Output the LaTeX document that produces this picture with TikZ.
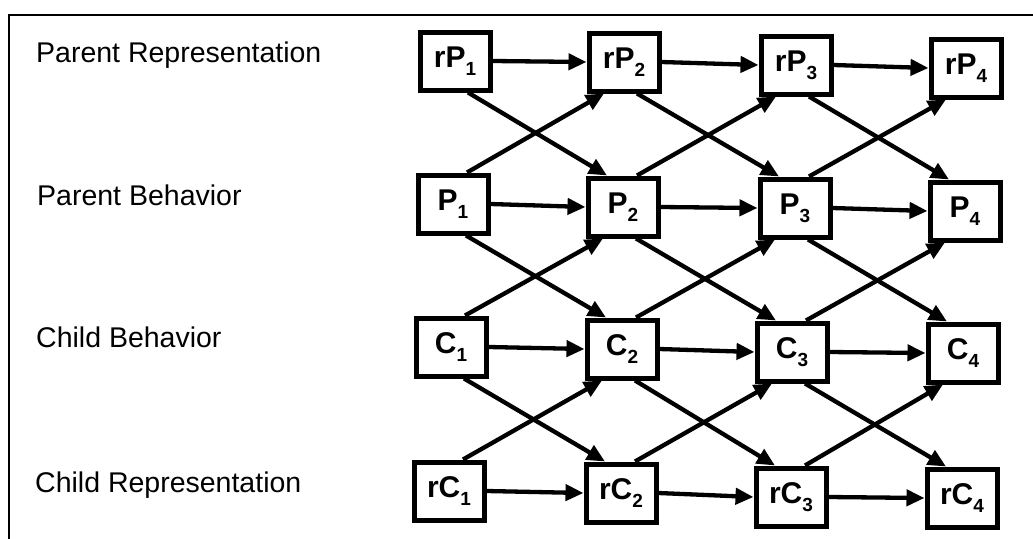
\documentclass[tikz,border=0pt]{standalone}
\usepackage{fontspec}
\setmainfont{Liberation Sans}
\usetikzlibrary{arrows.meta}
\newcommand{\boxlab}[2]{{\fontsize{30}{32}\selectfont\bfseries #1}\raisebox{-8pt}{\fontsize{19}{20}\selectfont\bfseries #2}}
\tikzset{
  stbox/.style={draw, line width=5pt, minimum width=70pt, minimum height=58pt, inner sep=0pt, fill=white},
  rowlab/.style={anchor=base west, inner sep=0pt, font=\fontsize{28.5}{30}\selectfont},
  arr/.style={line width=4.3pt, -{Triangle[length=18pt,width=16pt]}}
}
\begin{document}
\begin{tikzpicture}[x=1pt,y=-1pt]
\useasboundingbox (0,0) rectangle (1033,538);
\fill[white] (0,0) rectangle (1033,538);
\draw[line width=2.2pt] (9,540) -- (9,15) -- (1035,15);
% row labels
\node[rowlab] (lrp) at (36,62) {Parent Representation};
\node[rowlab] (lpb) at (37,205) {Parent Behavior};
\node[rowlab] (lcb) at (36,347) {Child Behavior};
\node[rowlab] (lrc) at (35,492) {Child Representation};
% nodes
\node[stbox] (rP1) at (455,61) {\boxlab{rP}{1}};
\node[stbox] (rP2) at (624,62) {\boxlab{rP}{2}};
\node[stbox] (rP3) at (796,65) {\boxlab{rP}{3}};
\node[stbox] (rP4) at (966,68) {\boxlab{rP}{4}};
\node[stbox] (P1) at (453,204) {\boxlab{P}{1}};
\node[stbox] (P2) at (623,207) {\boxlab{P}{2}};
\node[stbox] (P3) at (795,208) {\boxlab{P}{3}};
\node[stbox] (P4) at (965,211) {\boxlab{P}{4}};
\node[stbox] (C1) at (451,347) {\boxlab{C}{1}};
\node[stbox] (C2) at (622,349) {\boxlab{C}{2}};
\node[stbox] (C3) at (792,352) {\boxlab{C}{3}};
\node[stbox] (C4) at (963,353) {\boxlab{C}{4}};
\node[stbox] (rC1) at (449,491) {\boxlab{rC}{1}};
\node[stbox] (rC2) at (621,493) {\boxlab{rC}{2}};
\node[stbox] (rC3) at (791,497) {\boxlab{rC}{3}};
\node[stbox] (rC4) at (962,498) {\boxlab{rC}{4}};
% horizontal arrows
\foreach \r in {rP,P,C,rC}{
  \foreach \i/\j in {1/2,2/3,3/4}{
    \draw[arr] (\r\i.east) -- (\r\j.west);
  }
}
% diagonal arrows
\foreach \a/\b in {rP/P,P/C,C/rC}{
  \foreach \i/\j in {1/2,2/3,3/4}{
    \draw[arr] ([xshift=13pt]\a\i.south) -- ([xshift=-16pt]\b\j.north);
    \draw[arr] ([xshift=14pt]\b\i.north) -- ([xshift=-20pt]\a\j.south);
  }
}
\end{tikzpicture}
\end{document}
